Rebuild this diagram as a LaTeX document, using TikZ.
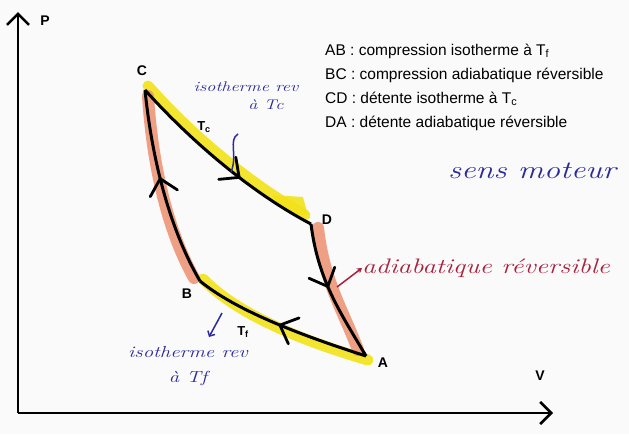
\documentclass[tikz,border=0pt]{standalone}
\usepackage{fontspec}
\setmainfont{Liberation Sans}
\newfontfamily\hand[FakeStretch=1.3]{Latin Modern Roman}
\usetikzlibrary{arrows.meta,decorations.markings}
\definecolor{hlyellow}{HTML}{F2E21A}
\definecolor{hlorange}{HTML}{EE9070}
\definecolor{inkblue}{HTML}{2B2A9A}
\definecolor{inkred}{HTML}{A8203C}
\tikzset{
  curve/.style={line width=3pt, black},
  midarrow/.style={postaction={decorate}, decoration={markings,
     mark=at position #1 with {\draw[line width=2.8pt, line cap=round, line join=round] (-15pt,14pt) -- (0pt,0pt) -- (-15pt,-14pt);}}},
  hly/.style={line width=11pt, hlyellow, opacity=0.9, line cap=round},
  hlo/.style={line width=12pt, hlorange, opacity=0.85, line cap=round},
  axis/.style={line width=2.6pt, -{Straight Barb[length=11pt,width=22pt,line width=2.6pt]}},
  ptlabel/.style={font=\bfseries\fontsize{14}{16}\selectfont},
  legend/.style={font=\fontsize{15.5}{18}\selectfont, anchor=west, inner sep=0pt},
  blueink/.style={inkblue, font=\hand\itshape\fontsize{14}{16}\selectfont, inner sep=0pt},
  redink/.style={inkred, font=\hand\itshape\fontsize{21}{23}\selectfont, inner sep=0pt},
}
\begin{document}
\begin{tikzpicture}[x=1pt,y=-1pt]
\useasboundingbox[fill=gray!4] (0,0) rectangle (629,434);
% points
\coordinate (A) at (366,356);
\coordinate (B) at (200,281);
\coordinate (C) at (145,90);
\coordinate (D) at (311,224);
\coordinate (O) at (18,413);
\coordinate (Ptop) at (18,12);
\coordinate (Vend) at (553,413);
% highlights
\draw[hly] ([shift={(3,-4)}]C) .. controls (190,134) and (250,184) .. ([shift={(-6,-9)}]D);
\fill[hlyellow, opacity=0.9] (272,195) -- (303,197) -- (308,216) -- (285,211) -- cycle;
\draw[hly] ([shift={(3,-2)}]B) .. controls (237,314) and (300,340) .. ([shift={(2,4)}]A);
\draw[hlo] ([shift={(3,6)}]C) .. controls (152,160) and (166,228) .. ([shift={(-6,-3)}]B);
\draw[hlo] ([shift={(7,4)}]D) .. controls (324,282) and (344,312) .. ([shift={(-8,-6)}]A);
% axes
\draw[axis] (O) -- (Ptop);
\draw[axis] (O) -- (Vend);
\node[ptlabel] (Plab) at (45,21) {P};
\node[ptlabel] (Vlab) at (540,376) {V};
% cycle
\draw[curve, midarrow=0.6] (C) .. controls (190,140) and (250,192) .. (D);
\draw[curve, midarrow=0.45] (D) .. controls (318,280) and (340,312) .. (A);
\draw[curve, midarrow=0.5] (A) .. controls (300,335) and (235,310) .. (B);
\draw[curve, midarrow=0.55] (B) .. controls (170,230) and (152,160) .. (C);
% point labels
\node[ptlabel] (Alab) at (383,363) {A};
\node[ptlabel] (Blab) at (187,294) {B};
\node[ptlabel] (Clab) at (142,71) {C};
\node[ptlabel] (Dlab) at (327,220) {D};
\node[ptlabel, font=\bfseries\fontsize{13}{15}\selectfont] (Tc) at (204,127) {T\textsubscript{c}};
\node[ptlabel, font=\bfseries\fontsize{13}{15}\selectfont] (Tf) at (243,332) {T\textsubscript{f}};
% legend
\node[legend] (l1) at (325,51) {AB : compression isotherme à T\textsubscript{f}};
\node[legend] (l2) at (325,75) {BC : compression adiabatique réversible};
\node[legend] (l3) at (325,99) {CD : détente isotherme à T\textsubscript{c}};
\node[legend] (l4) at (325,123) {DA : détente adiabatique réversible};
% handwritten notes
\node[blueink] (n1a) at (246,87) {isotherme rev};
\node[blueink] (n1b) at (266,105) {à Tc};
\coordinate (n1s) at (238,134);
\coordinate (n1e) at (231,172);
\draw[inkblue, line width=1.5pt] (n1s) .. controls (228,140) and (238,155) .. (n1e);
\node[blueink, font=\hand\itshape\fontsize{16}{18}\selectfont] (n2a) at (188,352) {isotherme rev};
\node[blueink, font=\hand\itshape\fontsize{16}{18}\selectfont] (n2b) at (188,378) {à Tf};
\coordinate (n2s) at (222,313);
\coordinate (n2e) at (209,337);
\draw[inkblue, line width=1.5pt, -{Straight Barb[length=4pt,width=8pt]}] (n2s) -- (n2e);
\node[redink, anchor=west] (n3) at (362,268) {adiabatique réversible};
\coordinate (n3s) at (337,287);
\draw[inkred, line width=1.5pt, -{Stealth[length=5pt,width=6pt]}] (n3s) -- (n3.west);
\node[blueink, font=\hand\itshape\fontsize{25}{27}\selectfont] (sens) at (532,171) {sens moteur};
\end{tikzpicture}
\end{document}
